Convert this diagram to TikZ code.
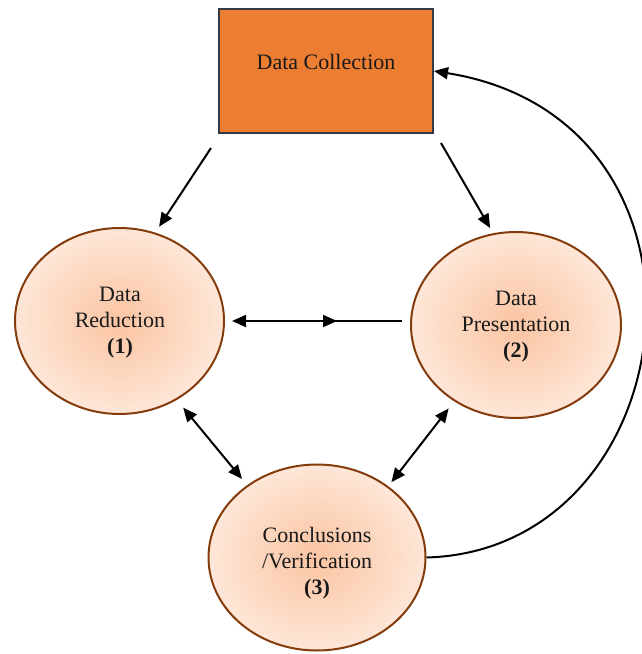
\documentclass[tikz,border=0pt]{standalone}
\usepackage{fontspec}
\setmainfont{Liberation Serif}
\usetikzlibrary{arrows.meta,shapes.geometric}
\definecolor{boxorange}{RGB}{237,125,49}
\definecolor{boxline}{RGB}{52,58,70}
\definecolor{ellline}{RGB}{132,60,12}
\definecolor{ellin}{RGB}{250,196,162}
\definecolor{ellout}{RGB}{254,230,215}
\begin{document}
\begin{tikzpicture}[x=1pt,y=-1pt,
  txt/.style={font=\fontsize{22}{26}\selectfont, align=center, text=black!90},
  collbox/.style={draw=boxline, line width=2pt, fill=boxorange, minimum width=214pt, minimum height=124pt, inner sep=0pt},
  stage/.style={ellipse, draw=ellline, line width=2pt, inner color=ellin, outer color=ellout, inner sep=0pt},
  arr/.style={line width=2pt, -{Triangle[length=14pt,width=12pt]}},
  dbl/.style={line width=2pt, {Triangle[length=14pt,width=12pt]}-{Triangle[length=14pt,width=12pt]}}
]
\useasboundingbox (0,0) rectangle (642,654);

\node[collbox] (dc) at (326,71) {};
\node[txt] (dct) at (326,62) {Data Collection};

\node[stage, minimum width=209pt, minimum height=186pt] (red) at (119.5,321) {};
\node[txt] (redt) at (120,323) {Data\\Reduction\\\textbf{(1)}};

\node[stage, minimum width=210pt, minimum height=186pt] (pres) at (516,325) {};
\node[txt] (prest) at (516,327) {Data\\Presentation\\\textbf{(2)}};

\node[stage, minimum width=217pt, minimum height=186pt] (conc) at (317,557.5) {};
\node[txt] (conct) at (317,563) {Conclusions\\/Verification\\\textbf{(3)}};

% arrows from Data Collection
\draw[arr, shorten >=7pt] ([shift={(-7,14)}]dc.south west) -- (red.68);
\draw[arr, shorten >=6pt] ([shift={(7,9)}]dc.south east) -- (pres.104);

% horizontal connector with middle arrowhead
\coordinate (mid) at (337,321);
\draw[arr, shorten <=8pt, shorten >=7pt] (pres.west |- red.east) -- (red.east);
\draw[arr, shorten <=14pt] (red.east) -- (mid);

% double arrows
\draw[dbl, shorten <=10pt, shorten >=8pt] (red.-54) -- (conc.134);
\draw[dbl, shorten <=9pt, shorten >=5pt] (pres.-129) -- (conc.45);

% feedback curve
\draw[arr] (conc.east) .. controls (690,550) and (740,120) .. (dc.east);
\end{tikzpicture}
\end{document}
